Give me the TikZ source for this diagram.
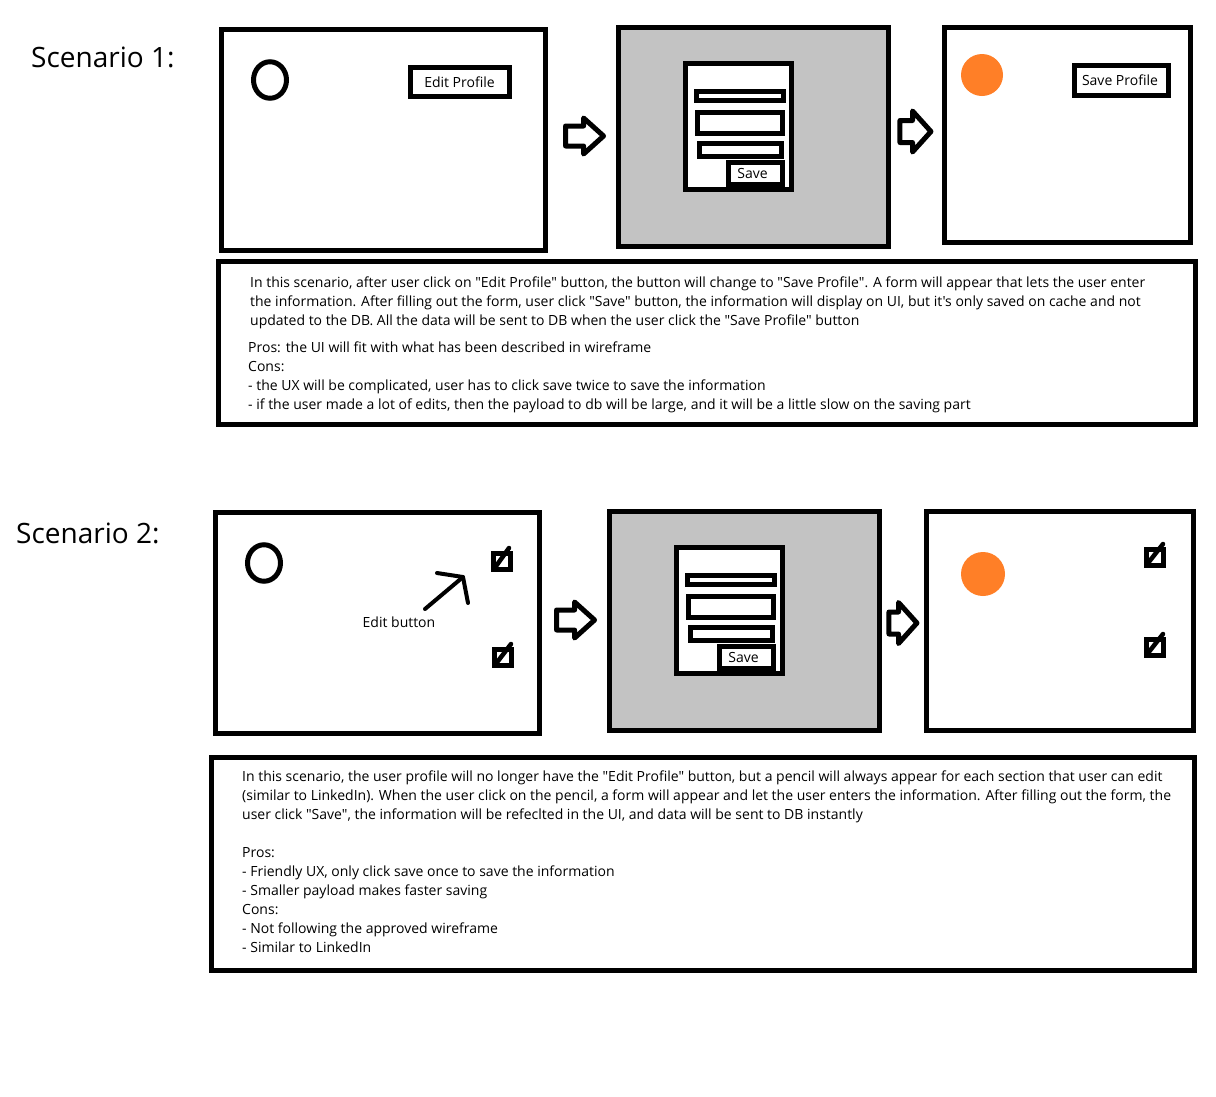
\documentclass[tikz,border=0pt]{standalone}
\usepackage{fontspec}
\setmainfont[Ligatures=TeXOff]{Open Sans}
\usetikzlibrary{shapes.arrows, shapes.geometric}
\definecolor{panelgray}{HTML}{C3C3C3}
\definecolor{avatarorange}{HTML}{FF7F27}
\tikzstyle{screen} = [rectangle, draw=black, line width=5pt, fill=white, inner sep=0pt]
\tikzstyle{panel} = [screen, fill=panelgray, minimum width=270pt, minimum height=219pt]
\tikzstyle{form} = [screen, minimum width=106pt, minimum height=126pt]
\tikzstyle{avatar} = [ellipse, draw=black, line width=5pt, minimum width=33pt, minimum height=36.5pt, inner sep=0pt]
\tikzstyle{filled} = [circle, fill=avatarorange, inner sep=0pt]
\tikzstyle{btn} = [screen, font=\fontsize{14}{16}\selectfont]
\tikzstyle{icon} = [screen, minimum width=17pt, minimum height=16pt]
\tikzstyle{nib} = [line width=4.5pt, line cap=round]
\tikzstyle{scenario} = [anchor=west, inner sep=0pt, font=\fontsize{28}{32}\selectfont]
\tikzstyle{note} = [anchor=north west, inner sep=0pt, align=left, font=\fontsize{14}{19}\selectfont]
\tikzstyle{stepwide} = [single arrow, draw=black, line width=5pt, line join=round, inner sep=0pt, inner ysep=7.5pt, single arrow head extend=8pt, single arrow tip angle=84, minimum height=38pt, fill=white]
\tikzstyle{stepnarrow} = [stepwide, inner ysep=8.5pt, single arrow head extend=9.5pt, single arrow tip angle=96, minimum height=31pt]
\tikzstyle{pointer} = [line width=4pt, line cap=round, line join=round]
\begin{document}
\begin{tikzpicture}[x=1pt, y=-1pt]
        \useasboundingbox (0,0) rectangle (1216,1096);

        % scenario 1
        \node (title1) [scenario] at (31,57) {Scenario 1:};
        \node (start1) [screen, minimum width=324pt, minimum height=221pt] at (383.5,140) {};
        \node (avatar1) [avatar] at (270,80) {};
        \node (edit) [btn, minimum width=99pt, minimum height=29pt] at (459.5,82) {Edit Profile};
        \node (step1) [stepwide] at (579,136) {};
        \node (panel1) [panel] at (753.5,137) {};
        \node (form1) [form] at (738.5,126.5) {};
        \node (field1a) [screen, minimum width=87pt, minimum height=9pt] at (740,96) {};
        \node (field1b) [screen, minimum width=85pt, minimum height=21pt] at (740,123) {};
        \node (field1c) [screen, minimum width=82pt, minimum height=13pt] at (740.5,150) {};
        \node (save1) [btn, minimum width=54pt, minimum height=22pt] at (755.5,173.5) {Save\rule{6pt}{0pt}};
        \node (step2) [stepnarrow] at (910.5,131.5) {};
        \node (end1) [screen, minimum width=246pt, minimum height=215pt] at (1067.5,135) {};
        \node (filled1) [filled, minimum size=42pt] at (982,75) {};
        \node (saveprofile) [btn, minimum width=94pt, minimum height=30pt] at (1121.5,80.5) {Save Profile\rule{3pt}{0pt}};
        \node (box1) [screen, minimum width=977pt, minimum height=163pt] at (707,343) {};
        \node (note1a) [note] at (250,276.5) {In this scenario, after user click on "Edit Profile" button, the button will change to "Save Profile". A form will appear that lets the user enter\\the information. After filling out the form, user click "Save" button, the information will display on UI, but it's only saved on cache and not\\updated to the DB. All the data will be sent to DB when the user click the "Save Profile" button};
        \node (note1b) [note] at (248,341.5) {Pros: the UI will fit with what has been described in wireframe\\Cons:\\- the UX will be complicated, user has to click save twice to save the information\\- if the user made a lot of edits, then the payload to db will be large, and it will be a little slow on the saving part};

        % scenario 2
        \node (title2) [scenario] at (16,533) {Scenario 2:};
        \node (start2) [screen, minimum width=324pt, minimum height=221pt] at (377.5,623) {};
        \node (avatar2) [avatar] at (264,563) {};
        \node (hint) [inner sep=0pt, font=\fontsize{14}{16}\selectfont] at (399,622) {Edit button};
        \coordinate (hinttail) at (425,609);
        \coordinate (hinttip) at (463,577);
        \coordinate (hintleft) at (437,573);
        \coordinate (hintright) at (468,603);
        \draw [pointer] (hinttail) -- (hinttip);
        \draw [pointer] (hintleft) -- (hinttip) -- (hintright);
        \foreach \n/\x/\y/\tipx/\tipy in {1/502/561.5/509/548, 2/503/657.5/511/644} {
            \node (pencil\n) [icon] at (\x,\y) {};
            \coordinate (nib\n) at (\tipx,\tipy);
            \draw [nib] ([xshift=3pt,yshift=3pt]pencil\n.south west) -- (nib\n);
        }
        \node (step3) [stepwide] at (570,620) {};
        \node (panel2) [panel] at (744.5,621) {};
        \node (form2) [form] at (729.5,610.5) {};
        \node (field2a) [screen, minimum width=87pt, minimum height=9pt] at (731,580) {};
        \node (field2b) [screen, minimum width=85pt, minimum height=21pt] at (731,607) {};
        \node (field2c) [screen, minimum width=82pt, minimum height=13pt] at (731.5,634) {};
        \node (save2) [btn, minimum width=54pt, minimum height=22pt] at (746.5,657.5) {Save\rule{6pt}{0pt}};
        \node (step4) [stepnarrow, minimum height=28pt] at (898,623) {};
        \node (end2) [screen, minimum width=267pt, minimum height=219pt] at (1060,621) {};
        \node (filled2) [filled, minimum size=44pt] at (983,574) {};
        \foreach \n/\x/\y/\tipx/\tipy in {3/1154.5/557.5/1163/544, 4/1154.5/647.5/1163/634} {
            \node (pencil\n) [icon] at (\x,\y) {};
            \coordinate (nib\n) at (\tipx,\tipy);
            \draw [nib] ([xshift=3pt,yshift=3pt]pencil\n.south west) -- (nib\n);
        }
        \node (box2) [screen, minimum width=983pt, minimum height=213pt] at (703,864) {};
        \node (note2) [note] at (242,770.5) {In this scenario, the user profile will no longer have the "Edit Profile" button, but a pencil will always appear for each section that user can edit\\(similar to LinkedIn). When the user click on the pencil, a form will appear and let the user enters the information. After filling out the form, the\\user click "Save", the information will be refeclted in the UI, and data will be sent to DB instantly\\[19pt]Pros:\\- Friendly UX, only click save once to save the information\\- Smaller payload makes faster saving\\Cons:\\- Not following the approved wireframe\\- Similar to LinkedIn};
\end{tikzpicture}
\end{document}
